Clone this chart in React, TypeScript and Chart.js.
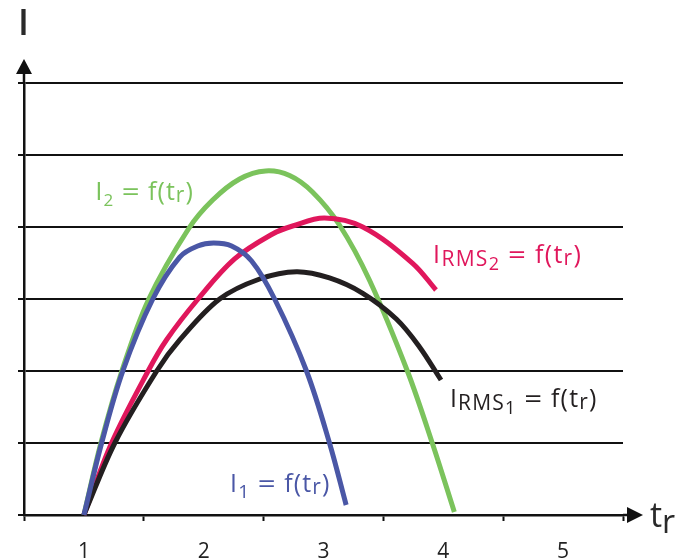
import React, { useEffect, useRef } from 'react';
import { Chart, registerables } from 'chart.js';

Chart.register(...registerables);

// X axis: tick marks at half units, labels at whole units
const xTickValues = [0.5, 1, 1.5, 2, 2.5, 3, 3.5, 4, 4.5, 5, 5.5];
const xLabelValues = [1, 2, 3, 4, 5];
const xLabels = ['1', '2', '3', '4', '5'];

// I1 = f(tr)  (blue)
const i1X = [1.0, 1.148, 1.325, 1.575, 1.8, 1.95, 2.083, 2.233, 2.4, 2.592, 2.858, 3.05, 3.189];
const i1Y = [0, 1.0, 2.0, 3.0, 3.583, 3.736, 3.778, 3.736, 3.528, 3.0, 2.0, 1.0, 0.139];

// I2 = f(tr)  (green)
const i2X = [1.0, 1.142, 1.317, 1.542, 1.875, 2.075, 2.3, 2.517, 2.717, 2.908, 3.133, 3.383, 3.7, 3.908, 4.092];
const i2Y = [0, 1.0, 2.0, 3.0, 3.979, 4.375, 4.667, 4.778, 4.715, 4.486, 4.028, 3.264, 2.0, 1.0, 0.042];

// IRMS1 = f(tr)  (black)
const rms1X = [1.0, 1.258, 1.608, 1.8, 2.133, 2.467, 2.775, 3.05, 3.328, 3.608, 3.8, 3.981];
const rms1Y = [0, 1.0, 2.0, 2.431, 3.0, 3.278, 3.379, 3.292, 3.079, 2.722, 2.338, 1.875];

// IRMS2 = f(tr)  (red)
const rms2X = [1.0, 1.231, 1.536, 1.689, 1.953, 2.258, 2.575, 2.742, 3.008, 3.328, 3.744, 3.939];
const rms2Y = [0, 1.0, 2.0, 2.431, 3.0, 3.556, 3.903, 4.014, 4.125, 4.0, 3.496, 3.125];

const BLUE = '#4a57a6';
const GREEN = '#7bc35c';
const RED = '#e0175c';
const BLACK = '#231f20';
const FONT = "'Open Sans', sans-serif";

type Part = { t: string; s: number; dy?: number; sx?: number };

function drawRich(
  ctx: CanvasRenderingContext2D,
  x: number,
  y: number,
  parts: Part[],
  color: string,
  track = 0,
  weight = 'normal'
) {
  let cx = x;
  ctx.fillStyle = color;
  ctx.textAlign = 'left';
  ctx.textBaseline = 'alphabetic';
  for (const p of parts) {
    ctx.font = `${weight} ${p.s}px ${FONT}`;
    for (const ch of p.t) {
      const w = ctx.measureText(ch).width;
      const sx = p.sx || 1;
      ctx.save();
      ctx.translate(cx, y + (p.dy || 0));
      ctx.scale(sx, 1);
      ctx.fillText(ch, 0, 0);
      ctx.restore();
      cx += w * sx + track;
    }
  }
}

const fParts = (): Part[] => [
  { t: ' ', s: 25 },
  { t: '=', s: 25, sx: 1.25, dy: 1 },
  { t: ' ', s: 25 },
  { t: 'f(t', s: 25 },
  { t: 'r', s: 21, dy: 2 },
  { t: ')', s: 25 },
];

// label anchors in data units (left/baseline of the leading "I")
const labelAnchors = {
  i2: [1.095, 4.37],
  i1: [2.22, 0.324],
  rms2: [3.915, 3.495],
  rms1: [4.055, 1.504],
};

const overlay = {
  id: 'overlay',
  afterDraw(chart: any) {
    const ctx: CanvasRenderingContext2D = chart.ctx;
    const { left, right, top, bottom } = chart.chartArea;
    const xs = chart.scales.x;
    const ys = chart.scales.y;
    ctx.save();
    ctx.strokeStyle = '#111';
    ctx.fillStyle = '#111';
    ctx.lineWidth = 2.5;
    // y axis arrow
    ctx.beginPath();
    ctx.moveTo(left, top);
    ctx.lineTo(left, 74);
    ctx.stroke();
    ctx.beginPath();
    ctx.moveTo(left, 59);
    ctx.lineTo(left - 8, 74);
    ctx.lineTo(left + 8, 74);
    ctx.closePath();
    ctx.fill();
    // x axis arrow
    ctx.beginPath();
    ctx.moveTo(right, bottom);
    ctx.lineTo(628, bottom);
    ctx.stroke();
    ctx.beginPath();
    ctx.moveTo(643, bottom);
    ctx.lineTo(627, bottom - 8);
    ctx.lineTo(627, bottom + 8);
    ctx.closePath();
    ctx.fill();

    // axis titles
    drawRich(ctx, 18, 35, [{ t: 'I', s: 36 }], '#2a2a2a', 0, '600');
    drawRich(ctx, 650, 527, [{ t: 't', s: 34 }, { t: 'r', s: 32, dy: 6 }], '#2a2a2a');

    // curve labels
    const px = (a: number[]) => [xs.getPixelForValue(a[0]), ys.getPixelForValue(a[1])];
    let p = px(labelAnchors.i2);
    drawRich(ctx, p[0], p[1], [{ t: 'I', s: 26 }, { t: '2', s: 17, dy: 6 }, ...fParts()], GREEN, 1.0);
    p = px(labelAnchors.i1);
    drawRich(ctx, p[0], p[1], [{ t: 'I', s: 25 }, { t: '1', s: 19, dy: 6 }, ...fParts()], BLUE, 1.1);
    p = px(labelAnchors.rms2);
    drawRich(
      ctx,
      p[0],
      p[1],
      [{ t: 'I', s: 25 }, { t: 'RMS', s: 21, dy: 3 }, { t: '2', s: 18, dy: 7 }, ...fParts()],
      RED,
      1.3
    );
    p = px(labelAnchors.rms1);
    drawRich(
      ctx,
      p[0],
      p[1],
      [{ t: 'I', s: 25 }, { t: 'RMS', s: 21, dy: 3 }, { t: '1', s: 18, dy: 7 }, ...fParts()],
      BLACK,
      1.2
    );
    ctx.restore();
  },
};

function pts(xs: number[], ys: number[]) {
  return xs.map((x, i) => ({ x, y: ys[i] }));
}

export default function App() {
  const ref = useRef<HTMLCanvasElement>(null);
  useEffect(() => {
    const canvas = ref.current;
    if (!canvas) return;
    const ds = (data: any[], color: string) => ({
      data,
      borderColor: color,
      backgroundColor: color,
      borderWidth: 5,
      pointRadius: 0,
      fill: false,
      tension: 0.35,
      clip: false as any,
    });
    const chart = new Chart(canvas, {
      type: 'line',
      data: {
        datasets: [
          ds(pts(i1X, i1Y), BLUE),
          ds(pts(rms1X, rms1Y), BLACK),
          ds(pts(rms2X, rms2Y), RED),
          ds(pts(i2X, i2Y), GREEN),
        ],
      },
      options: {
        responsive: false,
        animation: false,
        devicePixelRatio: 1,
        layout: { padding: { top: 83, right: 64, bottom: 0, left: 0 } },
        plugins: { legend: { display: false }, tooltip: { enabled: false } },
        scales: {
          x: {
            type: 'linear',
            min: 0.5,
            max: 5.5,
            afterBuildTicks: (s: any) => {
              s.ticks = xTickValues.map((v) => ({ value: v }));
            },
            afterFit: (s: any) => {
              s.height = 45;
            },
            ticks: {
              autoSkip: false,
              maxRotation: 0,
              padding: 18,
              color: '#222',
              font: { family: FONT, size: 21 },
              callback: (v: any) => {
                const i = xLabelValues.indexOf(Number(v));
                return i >= 0 ? xLabels[i] : '';
              },
            },
            grid: {
              drawOnChartArea: false,
              tickLength: 6,
              tickWidth: 2,
              tickColor: (c: any) => (c.tick && Number.isInteger(c.tick.value) ? 'rgba(0,0,0,0)' : '#111'),
            },
            border: { display: true, color: '#111', width: 2.5 },
          },
          y: {
            min: 0,
            max: 6,
            afterFit: (s: any) => {
              s.width = 24;
            },
            ticks: { stepSize: 1, display: false },
            grid: { color: '#111', lineWidth: 2, tickLength: 6, tickColor: '#111' },
            border: { display: true, color: '#111', width: 2.5 },
          },
        },
      } as any,
      plugins: [overlay],
    });
    return () => chart.destroy();
  }, []);
  return (
    <div style={{ position: 'fixed', left: 0, top: 0, width: 687, height: 560, background: '#fff' }}>
      <canvas ref={ref} width={687} height={560} style={{ display: 'block' }} />
    </div>
  );
}
